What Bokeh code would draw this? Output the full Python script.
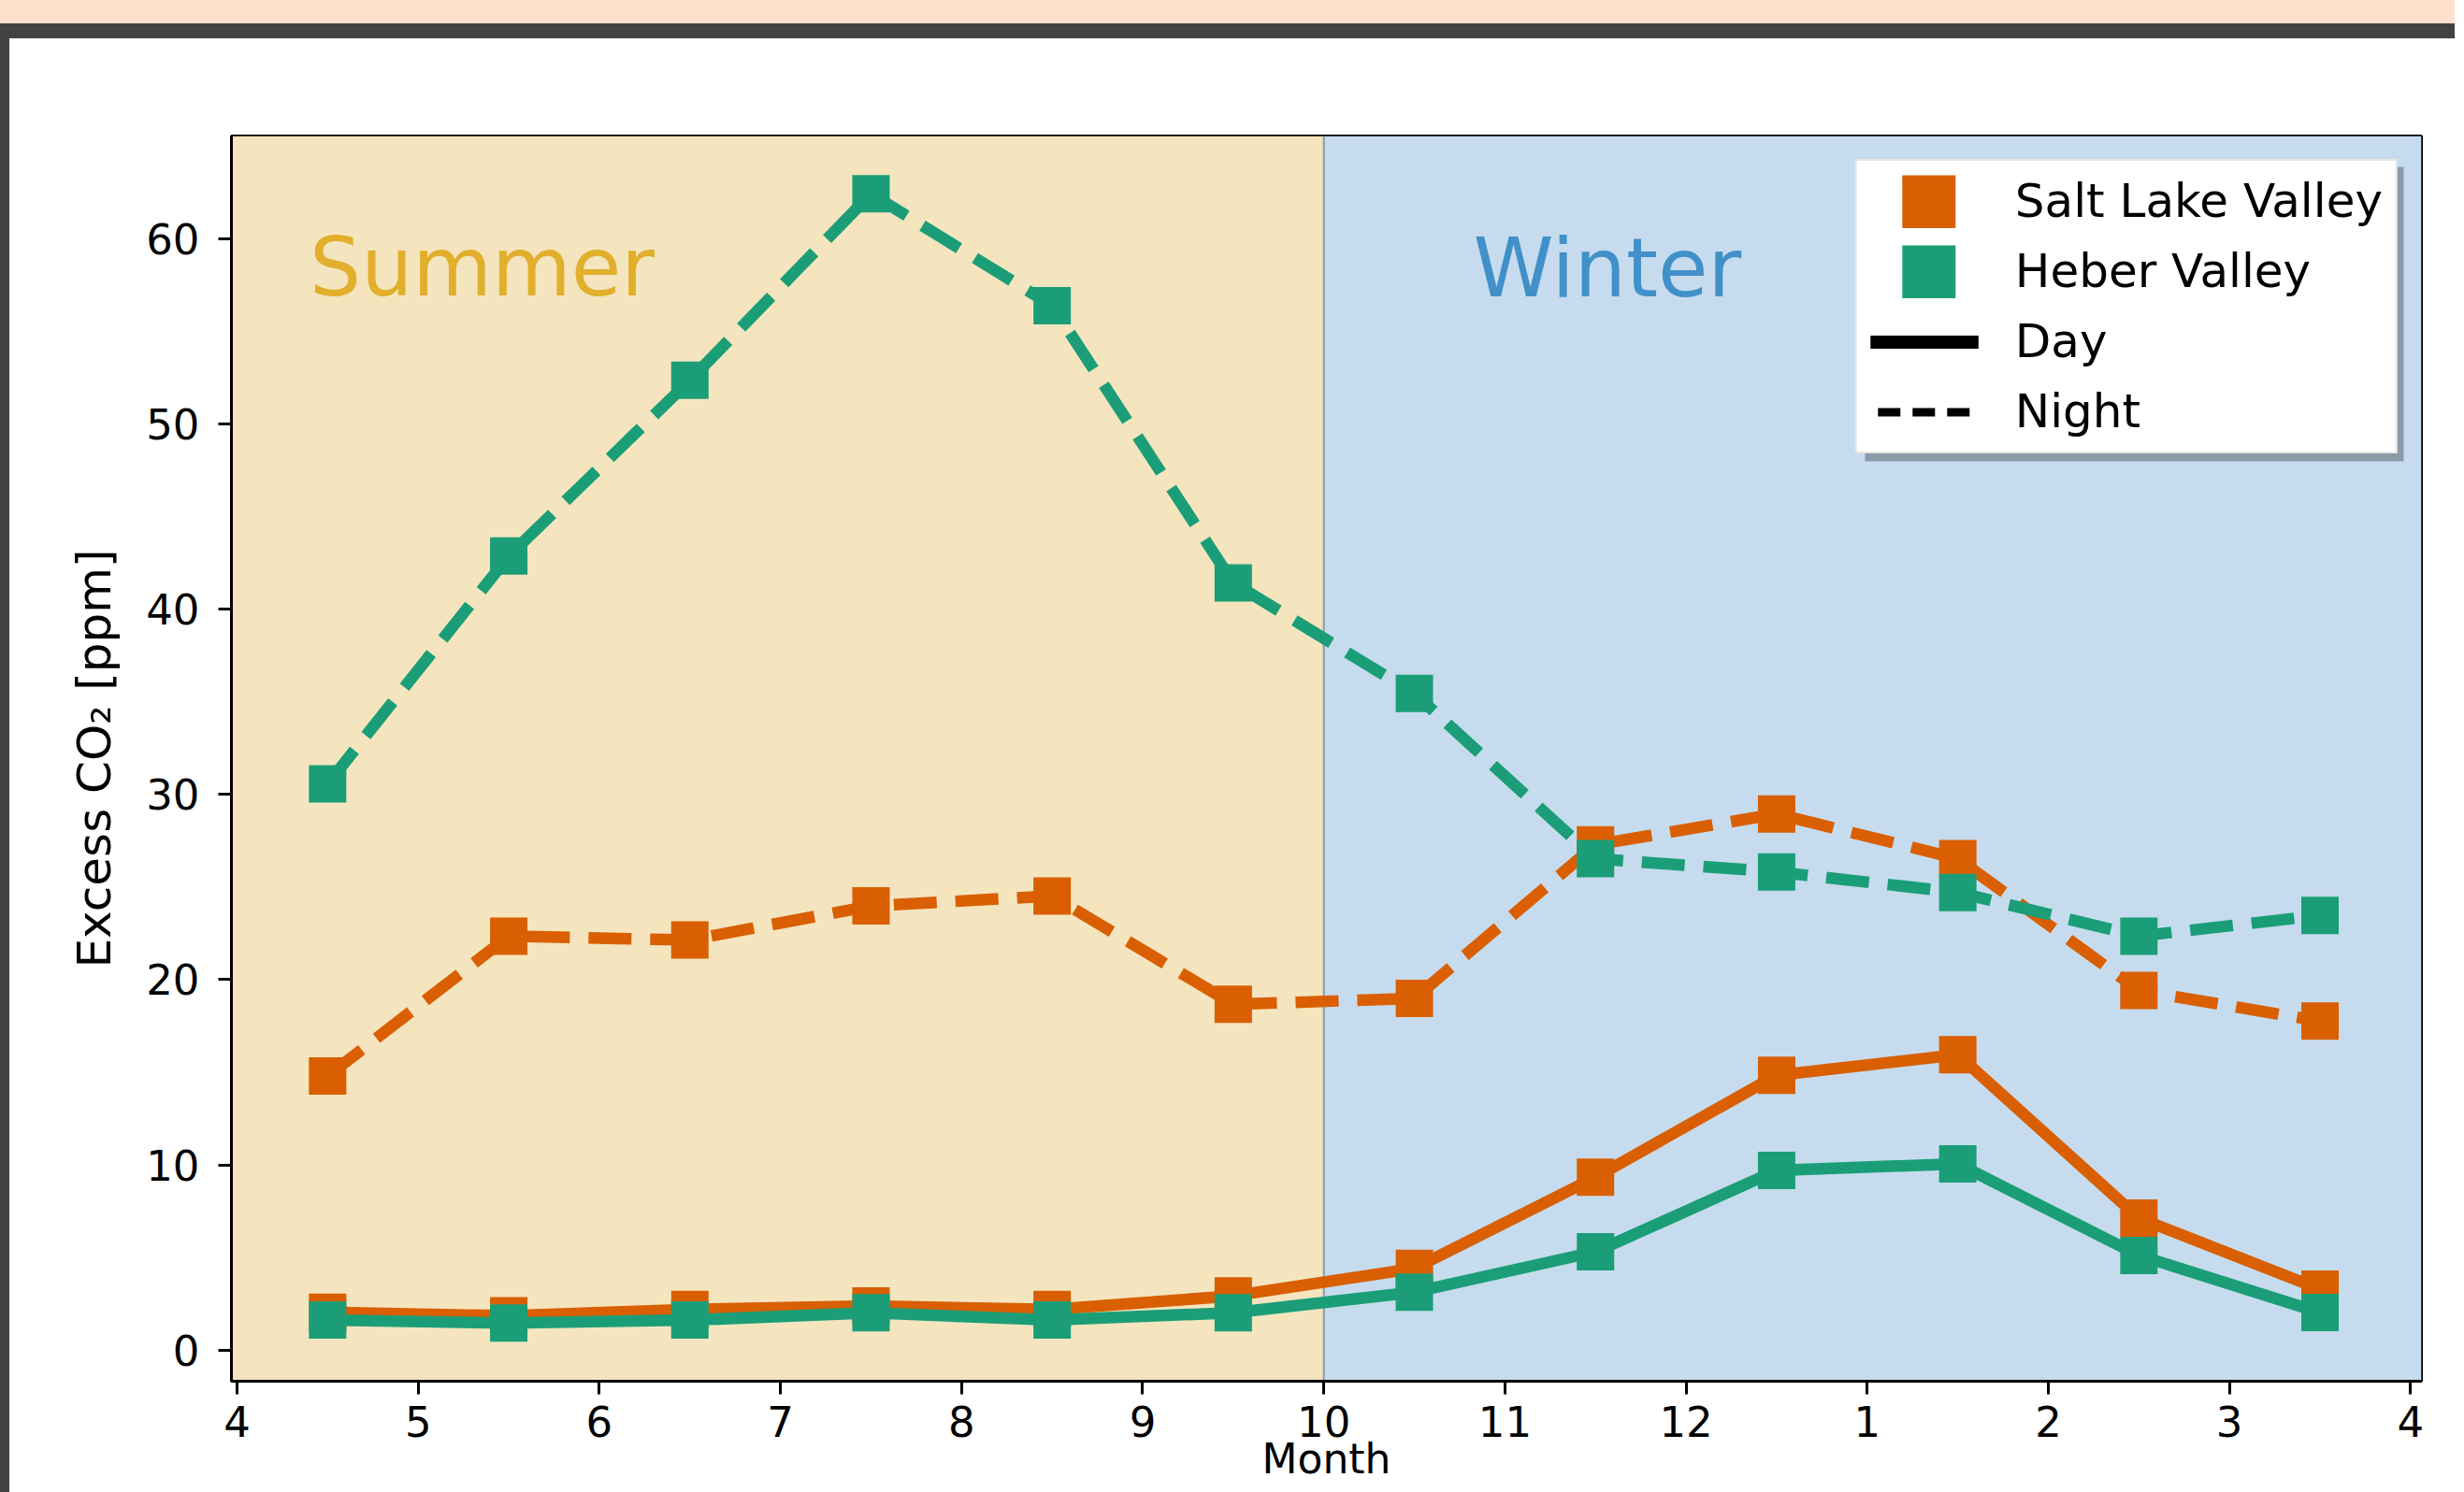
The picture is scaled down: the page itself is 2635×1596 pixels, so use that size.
from bokeh.plotting import figure
from bokeh.models import (Range1d, FixedTicker, BoxAnnotation, Span, Label,
                          Legend, LegendItem, Div)
from bokeh.layouts import column, row
from bokeh.embed import file_html
from bokeh.resources import INLINE

NAN = float("nan")

# ---------------- data ----------------
month_pos = [4.5, 5.5, 6.5, 7.5, 8.5, 9.5, 10.5, 11.5, 12.5, 13.5, 14.5, 15.5]
slv_day = [2.04, 1.85, 2.19, 2.38, 2.19, 2.93, 4.41, 9.33, 14.84, 15.95, 7.13, 3.29]
slv_night = [14.8, 22.35, 22.14, 23.98, 24.52, 18.67, 18.99, 27.28, 28.95, 26.53, 19.42, 17.76]
heber_day = [1.62, 1.46, 1.62, 2.02, 1.62, 2.02, 3.13, 5.31, 9.70, 10.06, 5.11, 2.03]
heber_night = [30.57, 42.87, 52.36, 62.43, 56.39, 41.42, 35.45, 26.53, 25.82, 24.71, 22.35, 23.47]
x_ticks = [4, 5, 6, 7, 8, 9, 10, 11, 12, 13, 14, 15, 16]
x_tick_labels = ["4", "5", "6", "7", "8", "9", "10", "11", "12", "1", "2", "3", "4"]
y_ticks = [0, 10, 20, 30, 40, 50, 60]
season_split = 10
season_names = ["Summer", "Winter"]
season_label_x = [4.40, 10.825]
season_label_y = [58.45, 58.4]
series_names = ["Salt Lake Valley", "Heber Valley"]
period_names = ["Day", "Night"]

# ---------------- style ----------------
ORANGE = "#D95F02"
GREEN = "#1B9E77"
SUMMER_BG = "#F4E5BF"
WINTER_BG = "#C6DCEE"
SUMMER_TXT = "#E1AF2C"
WINTER_TXT = "#4190C9"
FONT = "DejaVu Sans"

FIG_W = 2615
FIG_H = 1555

p = figure(width=FIG_W, height=FIG_H, output_backend="svg", toolbar_location=None,
           x_range=Range1d(3.969, 16.06), y_range=Range1d(-1.68, 65.55),
           min_border_left=237, min_border_right=36, min_border_top=104,
           min_border_bottom=119)
p.background_fill_color = "white"
p.border_fill_color = "white"
p.outline_line_color = "black"
p.outline_line_width = 3
p.grid.visible = False

# season backgrounds
p.add_layout(BoxAnnotation(right=season_split, fill_color=SUMMER_BG, fill_alpha=1,
                           line_color=None, level="underlay"))
p.add_layout(BoxAnnotation(left=season_split, fill_color=WINTER_BG, fill_alpha=1,
                           line_color=None, level="underlay"))
p.add_layout(Span(location=season_split, dimension="height", line_color="#8C9AA6",
                  line_width=2, level="underlay"))

# season labels
for name, sx, sy, col in zip(season_names, season_label_x, season_label_y,
                             [SUMMER_TXT, WINTER_TXT]):
    p.add_layout(Label(x=sx, y=sy, text=name, text_color=col, text_font=FONT,
                       text_font_size="87px", text_baseline="alphabetic",
                       text_align="left"))

LW = 12.5
DASH = "46 20"
MS = 40

def series(y, color, dash):
    p.line(month_pos, y, line_color=color, line_width=LW, line_dash=dash,
           line_join="round")
    p.scatter(month_pos, y, marker="square", size=MS, fill_color=color,
              line_color=None)

series(slv_day, ORANGE, "solid")
series(slv_night, ORANGE, DASH)
series(heber_day, GREEN, "solid")
series(heber_night, GREEN, DASH)

# axes
for ax in (p.xaxis[0], p.yaxis[0]):
    ax.axis_line_color = "black"
    ax.axis_line_width = 3
    ax.major_tick_line_color = "black"
    ax.major_tick_line_width = 3
    ax.major_tick_out = 14
    ax.major_tick_in = 0
    ax.minor_tick_line_color = None
    ax.major_label_text_font = FONT
    ax.major_label_text_font_size = "45px"
    ax.major_label_text_color = "black"
    ax.axis_label_text_font = FONT
    ax.axis_label_text_font_style = "normal"
    ax.axis_label_text_color = "black"

p.xaxis.ticker = FixedTicker(ticks=x_ticks)
p.xaxis.major_label_overrides = {t: l for t, l in zip(x_ticks, x_tick_labels)}
p.xaxis.major_label_standoff = 12
p.xaxis.axis_label = "Month"
p.xaxis.axis_label_text_font_size = "44px"
p.xaxis.axis_label_standoff = -5

p.yaxis.ticker = FixedTicker(ticks=y_ticks)
p.yaxis.major_label_standoff = 20
p.yaxis.axis_label = "Excess CO\u2082 [ppm]"
p.yaxis.axis_label_text_font_size = "50px"
p.yaxis.axis_label_standoff = 23

# legend drop shadow (screen units relative to the frame)
p.add_layout(BoxAnnotation(left=1747, right=2323, top=1299, bottom=984,
                           left_units="screen", right_units="screen",
                           top_units="screen", bottom_units="screen",
                           fill_color="#000000", fill_alpha=0.3, line_color=None,
                           level="annotation"))

# legend proxies
r_slv = p.line([NAN, NAN], [NAN, NAN], line_color=ORANGE, line_width=57,
               line_dash="0 34 57 1000")
r_heb = p.line([NAN, NAN], [NAN, NAN], line_color=GREEN, line_width=57,
               line_dash="0 34 57 1000")
r_day = p.line([NAN, NAN], [NAN, NAN], line_color="black", line_width=14)
r_night = p.line([NAN, NAN], [NAN, NAN], line_color="black", line_width=9,
                 line_dash="0 8 24 13 24 13 24 100")

legend = Legend(items=[LegendItem(label=series_names[0], renderers=[r_slv]),
                       LegendItem(label=series_names[1], renderers=[r_heb]),
                       LegendItem(label=period_names[0], renderers=[r_day]),
                       LegendItem(label=period_names[1], renderers=[r_night])],
                location="top_right", margin=25, padding=14, spacing=17,
                glyph_width=116, glyph_height=57, label_standoff=39,
                label_text_font=FONT, label_text_font_size="50px",
                label_text_color="black", label_height=57,
                border_line_color="#CCCCCC", border_line_width=2,
                background_fill_color="white", background_fill_alpha=1)
p.add_layout(legend, "center")

top_band = Div(text="", width=FIG_W + 10, height=25, margin=0,
               styles={"background-color": "#FFE0CC"})
dark_band = Div(text="", width=FIG_W + 10, height=16, margin=0,
                styles={"background-color": "#424242"})
left_bar = Div(text="", width=10, height=FIG_H, margin=0,
               styles={"background-color": "#424242"})

layout = column(top_band, dark_band, row(left_bar, p, spacing=0), spacing=0)

open("out.html", "w").write(file_html(layout, INLINE))
